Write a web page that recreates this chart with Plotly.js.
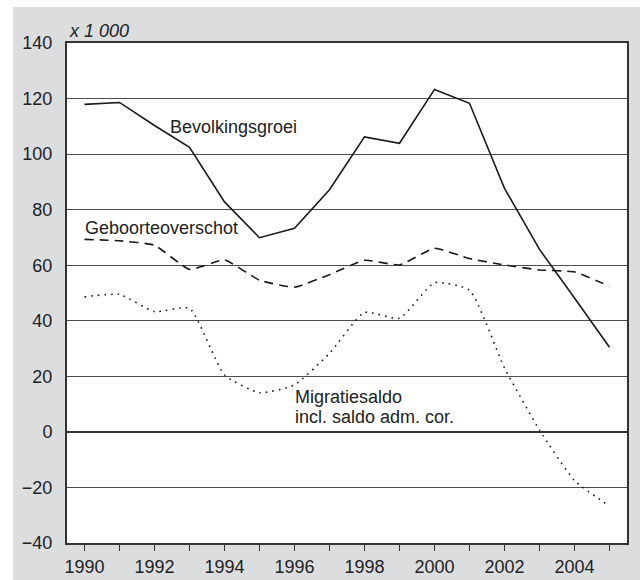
<!DOCTYPE html>
<html>
<head>
<meta charset="utf-8">
<script src="https://cdn.plot.ly/plotly-3.0.1.min.js"></script>
<style>
  body { margin: 0; background: #ffffff; }
  #graph { position: absolute; left: 13px; top: 7px; width: 627px; height: 573px; }
</style>
</head>
<body>
<div id="graph"></div>
<script>
const years = [1990, 1991, 1992, 1993, 1994, 1995, 1996, 1997, 1998, 1999, 2000, 2001, 2002, 2003, 2004, 2005];

// x 1 000
const bevolkingsgroei = [117.9, 118.6, 110.3, 102.4, 82.8, 69.9, 73.3, 87.2, 106.2, 103.9, 123.3, 118.3, 87.7, 65.7, 48.2, 30.5];
const geboorteoverschot = [69.3, 68.8, 67.2, 58.5, 61.9, 54.6, 52.1, 56.6, 61.8, 60.1, 66.1, 62.4, 60.1, 58.3, 57.6, 52.4];
const migratiesaldo = [48.6, 49.5, 43.3, 44.5, 20.5, 14.1, 16.9, 28.3, 43.0, 40.9, 53.7, 51.0, 23.0, 0.7, -17.5, -26.7];

const tickYears = years;
const tickLabels = years.map(y => (y % 2 === 0 ? String(y) : ''));

const font = {family: '"Liberation Sans", Arial, sans-serif', size: 18, color: '#222222'};

const traces = [
    {
        x: years,
        y: bevolkingsgroei,
        mode: 'lines',
        line: {color: '#1a1a1a', width: 1.6},
        hoverinfo: 'skip',
    },
    {
        x: years,
        y: geboorteoverschot,
        mode: 'lines',
        line: {color: '#1a1a1a', width: 1.6, dash: '9px,6px', shape: 'spline', smoothing: 0.4},
        hoverinfo: 'skip',
    },
    {
        x: years,
        y: migratiesaldo,
        mode: 'lines',
        line: {color: '#1a1a1a', width: 1.6, dash: '1.6px,5px', shape: 'spline', smoothing: 0.5},
        hoverinfo: 'skip',
    },
];

const layout = {
    width: 627,
    height: 573,
    paper_bgcolor: '#dcdddf',
    plot_bgcolor: '#ffffff',
    showlegend: false,
    font: font,
    margin: {l: 54, r: 13, t: 36, b: 37, pad: 0},
    xaxis: {
        range: [1989.5, 2005.5],
        tickvals: tickYears,
        ticktext: tickLabels,
        ticks: 'outside',
        ticklen: 6,
        tickwidth: 1.5,
        tickcolor: '#333333',
        showgrid: false,
        zeroline: false,
        showline: true,
        linecolor: '#333333',
        linewidth: 2,
        mirror: true,
        tickfont: font,
    },
    yaxis: {
        range: [-40, 140],
        tickvals: [-40, -20, 0, 20, 40, 60, 80, 100, 120, 140],
        ticktext: ['\u221240', '\u221220', '0', '20', '40', '60', '80', '100', '120', '140'],
        ticks: '',
        ticklabelstandoff: 9,
        showgrid: true,
        gridcolor: '#4d4d4d',
        gridwidth: 1.2,
        zeroline: true,
        zerolinecolor: '#333333',
        zerolinewidth: 2.2,
        showline: true,
        linecolor: '#333333',
        linewidth: 2,
        mirror: true,
        tickfont: font,
    },
    annotations: [
        {
            text: 'x 1 000',
            xref: 'paper', yref: 'paper',
            x: 0, y: 1,
            xanchor: 'left', yanchor: 'bottom',
            showarrow: false,
            font: {family: font.family, size: 18, color: '#222222', style: 'italic'},
        },
        {
            text: 'Bevolkingsgroei',
            x: 1992.39, y: 109.8,
            xanchor: 'left', yanchor: 'middle',
            showarrow: false,
            font: font,
        },
        {
            text: 'Geboorteoverschot',
            x: 1989.95, y: 73.4,
            xanchor: 'left', yanchor: 'middle',
            showarrow: false,
            font: font,
        },
        {
            text: 'Migratiesaldo',
            x: 1995.97, y: 12.7,
            xanchor: 'left', yanchor: 'middle',
            showarrow: false,
            font: font,
        },
        {
            text: 'incl. saldo adm. cor.',
            x: 1995.97, y: 5.5,
            xanchor: 'left', yanchor: 'middle',
            showarrow: false,
            font: font,
        },
    ],
};

Plotly.newPlot('graph', traces, layout, {displayModeBar: false, staticPlot: true});
</script>
</body>
</html>
